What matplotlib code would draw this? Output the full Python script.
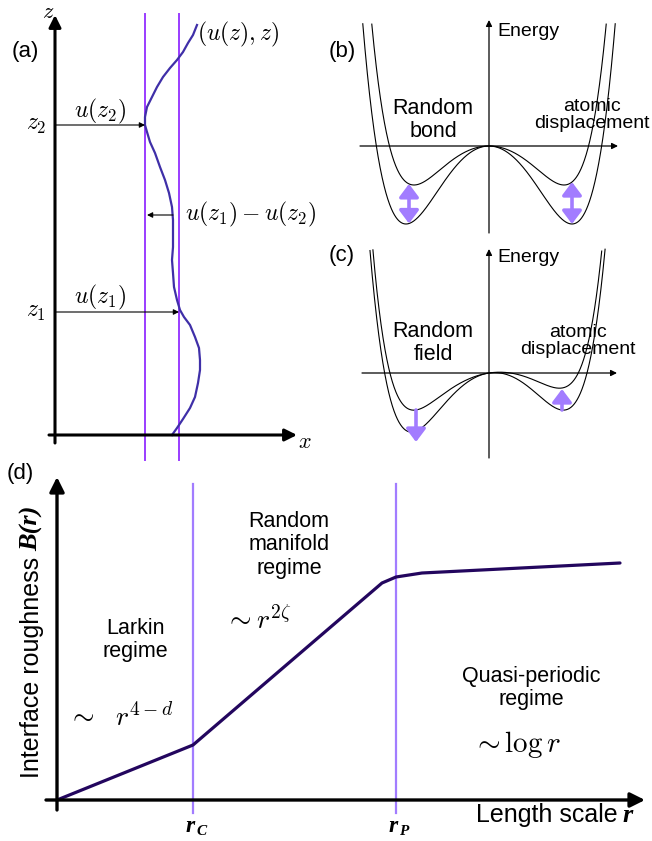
import numpy as np
import matplotlib
matplotlib.use('Agg')
import matplotlib.pyplot as plt
from matplotlib.transforms import Affine2D

W, H = 652, 841
plt.rcParams['font.family'] = ['Liberation Sans', 'DejaVu Sans']
plt.rcParams['mathtext.fontset'] = 'cm'

# ── data ────────────────────────────────────────────────────────────────
# (a) interface profile (u, z), origin at the axes corner
prof_u = [117, 122, 128, 135, 140, 143, 145, 145, 144, 140, 135, 129, 125, 122, 119, 118,
          117, 118, 118, 118, 117, 114, 110, 105, 100, 95, 92, 90, 90, 92, 97, 102, 108,
          115, 122, 128, 133, 138, 142]
prof_z = [0, 7, 16, 27, 38, 52, 65, 75, 87, 98, 110, 118, 125, 135, 148, 162,
          175, 188, 202, 215, 228, 242, 255, 268, 282, 293, 303, 310, 318, 328, 338, 348, 358,
          367, 375, 383, 392, 400, 410]
z1, z2 = 123, 310
u_z1, u_z2 = 124, 90

# (b) random bond: two symmetric double wells (depth, width, wall power)
bond_depth = [39, 78]
bond_width = [75, 83]
bond_power = [2.85, 2.5]
bond_arrow_x = [-80, 83]

# (c) random field: tilted double wells
field_depth = [26, 48]
field_width = [73, 76]
field_power = [3.25, 2.76]
field_tilt = [11, 11]
field_arrow_x = [-73, 73]
field_arrow_from = [-37, -37]
field_arrow_to = [-69, -16]

# (d) roughness B(r)
r_pts = [0, 136, 325, 339, 365, 563]
B_pts = [0, 55, 217, 223, 227, 237]
r_c, r_p = 136, 339

E_TOP = 124

fig = plt.figure(figsize=(W / 100, H / 100), dpi=100)
tpx = Affine2D().scale(1 / W, -1 / H).translate(0, 1) + fig.transFigure


def panel(x0, y0, x1, y1, ox, oy):
    ax = fig.add_axes([x0 / W, 1 - y1 / H, (x1 - x0) / W, (y1 - y0) / H])
    ax.set_xlim(x0 - ox, x1 - ox)
    ax.set_ylim(oy - y1, oy - y0)
    ax.axis('off')
    return ax


def arrow(ax, start, tip, lw=2.0, ms=20, color='k', style='-|>'):
    ax.annotate('', xy=tip, xytext=start,
                arrowprops=dict(arrowstyle=style, lw=lw, color=color, mutation_scale=ms,
                                shrinkA=0, shrinkB=0), annotation_clip=False)


def well(x, A, m, k, h=0.0):
    s = x / m
    return A * (np.abs(s) ** (2 * k) - k * s ** 2) / (k - 1) + h * s


VIOLET = '#9a3cff'
LILAC = '#a27cff'

# ── (a) ────────────────────────────────────────────────────────────────
ax = panel(0, 0, 320, 460, 55, 435)
arrow(ax, (0, -8), (0, 420), lw=2.2, ms=18)
arrow(ax, (-6, 0), (242, 0), lw=2.2, ms=18)
for u in (u_z2, u_z1):
    ax.plot([u, u], [-25, 421], color=VIOLET, lw=1.4, clip_on=False)
ax.plot(prof_u, prof_z, color='#3f2fa8', lw=1.6, solid_joinstyle='round', clip_on=False)
arrow(ax, (0, z2), (u_z2, z2), lw=0.8, ms=8)
arrow(ax, (0, z1), (u_z1, z1), lw=0.8, ms=8)
arrow(ax, (118, 220), (92, 220), lw=0.8, ms=8)

fig.text(48, 12, r'$z$', transform=tpx, fontsize=16, ha='center', va='center')
fig.text(305, 443, r'$x$', transform=tpx, fontsize=16, ha='center', va='center')
fig.text(25, 52, '(a)', transform=tpx, fontsize=16, ha='center', va='center')
fig.text(100, 111, r'$u(z_2)$', transform=tpx, fontsize=17, ha='center', va='center')
fig.text(36, 125, r'$z_2$', transform=tpx, fontsize=17, ha='center', va='center')
fig.text(100, 297, r'$u(z_1)$', transform=tpx, fontsize=17, ha='center', va='center')
fig.text(36, 312, r'$z_1$', transform=tpx, fontsize=17, ha='center', va='center')
fig.text(185, 214, r'$u(z_1)-u(z_2)$', transform=tpx, fontsize=17, ha='left', va='center')
fig.text(197, 34, r'$(u(z),z)$', transform=tpx, fontsize=17, ha='left', va='center')

# ── (b) ────────────────────────────────────────────────────────────────
xs = np.linspace(-135, 135, 1200)
ax = panel(325, 0, 652, 236, 489, 146)
arrow(ax, (-129, 0), (129, 0), lw=0.9, ms=9)
arrow(ax, (0, -87), (0, 126), lw=0.9, ms=9)
for A, m, k in zip(bond_depth, bond_width, bond_power):
    E = well(xs, A, m, k)
    E[E > E_TOP] = np.nan
    ax.plot(xs, E, color='k', lw=0.8)
for x in bond_arrow_x:
    top = well(x, bond_depth[0], bond_width[0], bond_power[0])
    bot = well(x, bond_depth[1], bond_width[1], bond_power[1])
    arrow(ax, (x, top), (x, bot), lw=2.6, ms=13, color=LILAC,
          style='<|-|>,head_length=0.6,head_width=0.45')

fig.text(342, 52, '(b)', transform=tpx, fontsize=16, ha='center', va='center')
fig.text(497, 32, 'Energy', transform=tpx, fontsize=14, ha='left', va='center')
fig.text(433, 120, 'Random\nbond', transform=tpx, fontsize=15.5, ha='center', va='center',
         linespacing=1.1)
fig.text(592, 115, 'atomic\ndisplacement', transform=tpx, fontsize=14, ha='center',
         va='center', linespacing=1.0)

# ── (c) ────────────────────────────────────────────────────────────────
ax = panel(325, 236, 652, 462, 489, 373)
arrow(ax, (-127, 0), (128, 0), lw=0.9, ms=9)
arrow(ax, (0, -85), (0, 124), lw=0.9, ms=9)
for A, m, k, h in zip(field_depth, field_width, field_power, field_tilt):
    E = well(xs, A, m, k, h)
    E[E > E_TOP] = np.nan
    ax.plot(xs, E, color='k', lw=0.8)
for x, y0, y1 in zip(field_arrow_x, field_arrow_from, field_arrow_to):
    arrow(ax, (x, y0), (x, y1), lw=2.6, ms=13, color=LILAC,
          style='-|>,head_length=0.6,head_width=0.45')

fig.text(342, 255, '(c)', transform=tpx, fontsize=16, ha='center', va='center')
fig.text(497, 258, 'Energy', transform=tpx, fontsize=14, ha='left', va='center')
fig.text(433, 343, 'Random\nfield', transform=tpx, fontsize=15.5, ha='center', va='center',
         linespacing=1.1)
fig.text(578, 341, 'atomic\ndisplacement', transform=tpx, fontsize=14, ha='center',
         va='center', linespacing=1.0)

# ── (d) ────────────────────────────────────────────────────────────────
ax = panel(0, 462, 652, 841, 57, 800)
arrow(ax, (-11, 0), (588, 0), lw=2.4, ms=22)
arrow(ax, (0, -10), (0, 323), lw=2.4, ms=22)
for r in (r_c, r_p):
    ax.plot([r, r], [-13, 316], color=LILAC, lw=1.6, clip_on=False)
ax.plot(r_pts, B_pts, color='#23065e', lw=2.3, solid_capstyle='round', clip_on=False)

fig.text(20, 474, '(d)', transform=tpx, fontsize=16, ha='center', va='center')
fig.text(135, 640, 'Larkin\nregime', transform=tpx, fontsize=15.5, ha='center',
         va='center', linespacing=1.15)
fig.text(121, 718, r'$\sim\ \ r^{4-d}$', transform=tpx, fontsize=20, ha='center', va='center')
fig.text(289, 545, 'Random\nmanifold\nregime', transform=tpx, fontsize=15.5, ha='center',
         va='center', linespacing=1.15)
fig.text(258, 621, r'$\sim r^{2\zeta}$', transform=tpx, fontsize=20, ha='center', va='center')
fig.text(531, 688, 'Quasi-periodic\nregime', transform=tpx, fontsize=15.5, ha='center',
         va='center', linespacing=1.15)
fig.text(517, 745, r'$\sim \log r$', transform=tpx, fontsize=21, ha='center', va='center')

renderer = fig.canvas.get_renderer()
serif = dict(family='Liberation Serif', weight='bold', style='italic')


def sub_label(x, y, base, sub):
    t = fig.text(x, y, base, transform=tpx, fontsize=17, ha='right', va='baseline', **serif)
    bb = t.get_window_extent(renderer)
    fig.text(bb.x1 + 1, y + 3, sub, transform=tpx, fontsize=11, ha='left',
             va='baseline', **serif)


sub_label(195, 832, 'r', 'C')
sub_label(398, 832, 'r', 'P')

# x label: sans text + serif bold italic r
t = fig.text(633, 822, 'r', transform=tpx, fontsize=19, ha='right', va='baseline', **serif)
bb = t.get_window_extent(renderer)
fig.text(bb.x0 - 5, 822, 'Length scale', transform=tpx, fontsize=18, ha='right',
         va='baseline')

# y label: rotated, sans text then serif B(r)
t = fig.text(32, 778, 'Interface roughness', transform=tpx, fontsize=18, rotation=90,
             ha='center', va='bottom')
bb = t.get_window_extent(renderer)
fig.text(32 / W, (bb.y1 + 6) / H, 'B(r)', fontsize=19, rotation=90, ha='center',
         va='bottom', **serif)

fig.savefig('out.png', dpi=100)
